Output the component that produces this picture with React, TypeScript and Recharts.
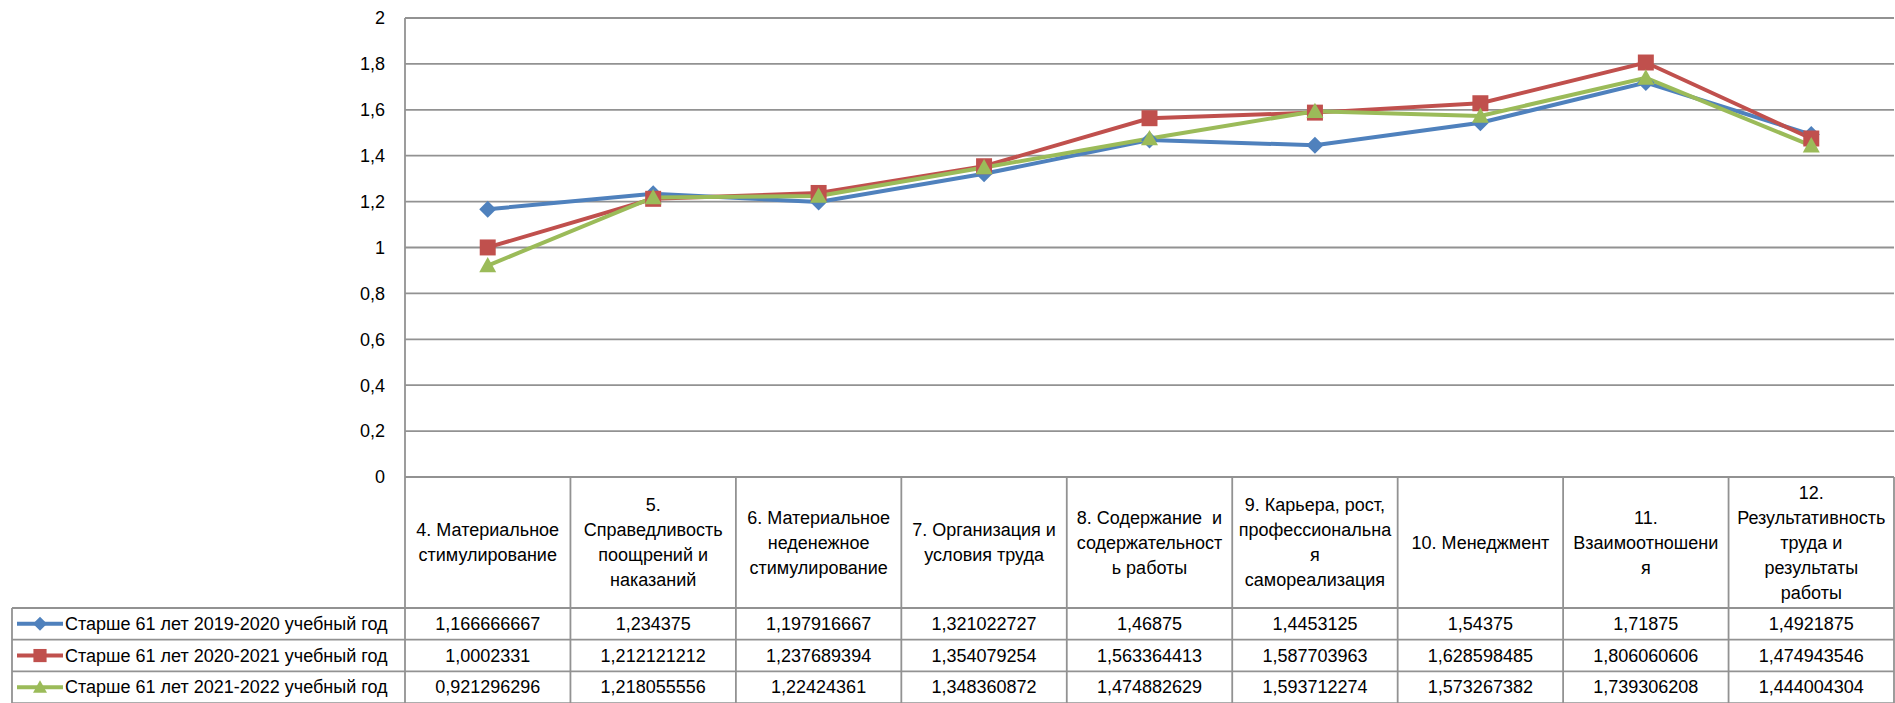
import React from 'react';
import { LineChart, Line, XAxis, YAxis, CartesianGrid } from 'recharts';

// категории (подписи столбцов таблицы данных, с переносами как в Excel)
const categories = [
  '4. Материальное стимулирование',
  '5. Справедливость поощрений и наказаний',
  '6. Материальное неденежное стимулирование',
  '7. Организация и условия труда',
  '8. Содержание  и содержательность работы',
  '9. Карьера, рост, профессиональная самореализация',
  '10. Менеджмент',
  '11. Взаимоотношения',
  '12. Результативность труда и результаты работы',
];
const categoryLines = [
  ['4. Материальное', 'стимулирование'],
  ['5.', 'Справедливость', 'поощрений и', 'наказаний'],
  ['6. Материальное', 'неденежное', 'стимулирование'],
  ['7. Организация и', 'условия труда'],
  ['8. Содержание  и', 'содержательност', 'ь работы'],
  ['9. Карьера, рост,', 'профессиональна', 'я', 'самореализация'],
  ['10. Менеджмент'],
  ['11.', 'Взаимоотношени', 'я'],
  ['12.', 'Результативность', 'труда и', 'результаты', 'работы'],
];

const series2019 = [1.166666667, 1.234375, 1.197916667, 1.321022727, 1.46875, 1.4453125, 1.54375, 1.71875, 1.4921875];
const series2020 = [1.0002331, 1.212121212, 1.237689394, 1.354079254, 1.563364413, 1.587703963, 1.628598485, 1.806060606, 1.474943546];
const series2021 = [0.921296296, 1.218055556, 1.22424361, 1.348360872, 1.474882629, 1.593712274, 1.573267382, 1.739306208, 1.444004304];

const seriesNames = [
  'Старше 61 лет 2019-2020 учебный год',
  'Старше 61 лет 2020-2021 учебный год',
  'Старше 61 лет 2021-2022 учебный год',
];
const seriesColors = ['#4F81BD', '#C0504D', '#9BBB59'];
const seriesMarkers = ['diamond', 'square', 'triangle'];
const seriesValues = [series2019, series2020, series2021];

const yTicks = [0, 0.2, 0.4, 0.6, 0.8, 1, 1.2, 1.4, 1.6, 1.8, 2];

const data = categories.map((name, i) => ({
  name,
  s1: series2019[i],
  s2: series2020[i],
  s3: series2021[i],
}));

// размеры
const W = 1895;
const H = 703;
const PLOT_LEFT = 405;
const PLOT_RIGHT = 1894;
const PLOT_TOP = 18;
const TABLE_TOP = 477;
const HEADER_BOTTOM = 608;
const ROW_H = 31.7;
const TABLE_LEFT = 12;
const COL_W = (PLOT_RIGHT - PLOT_LEFT) / categories.length;
const GRID = '#929292';
const FONT = 18;

const fmt = (v: number) => String(v).replace('.', ',');

const Marker = ({ kind, cx, cy, color, s }: { kind: string; cx: number; cy: number; color: string; s: number }) => {
  if (kind === 'diamond') {
    return <path d={`M${cx},${cy - s} L${cx + s},${cy} L${cx},${cy + s} L${cx - s},${cy} Z`} fill={color} />;
  }
  if (kind === 'square') {
    const h = s * 0.94;
    return <rect x={cx - h} y={cy - h} width={h * 2} height={h * 2} fill={color} />;
  }
  return <path d={`M${cx},${cy - s} L${cx + s},${cy + s * 0.8} L${cx - s},${cy + s * 0.8} Z`} fill={color} />;
};

const makeDot = (idx: number) => (props: any) => {
  const { cx, cy, index } = props;
  return (
    <Marker key={`d${idx}-${index}`} kind={seriesMarkers[idx]} cx={cx} cy={cy} color={seriesColors[idx]} s={8.5} />
  );
};

// ячейки таблицы данных рисуются тиками оси X
const TableTick = (props: any) => {
  const { x, payload } = props;
  const i = payload.index;
  const left = x - COL_W / 2;
  const right = x + COL_W / 2;
  const lines = categoryLines[i];
  const headerMid = (TABLE_TOP + HEADER_BOTTOM) / 2;
  const lh = 25;
  const firstY = headerMid - ((lines.length - 1) * lh) / 2;
  const rowYs = [0, 1, 2, 3].map((r) => HEADER_BOTTOM + r * ROW_H);
  return (
    <g>
      <line x1={left} y1={TABLE_TOP} x2={left} y2={H} stroke={GRID} strokeWidth={1.8} />
      {i === categories.length - 1 && (
        <line x1={right} y1={TABLE_TOP} x2={right} y2={H} stroke={GRID} strokeWidth={1.8} />
      )}
      {rowYs.map((ry, r) => (
        <line key={r} x1={left} y1={ry} x2={right} y2={ry} stroke={GRID} strokeWidth={1.8} />
      ))}
      {lines.map((t, k) => (
        <text
          key={k}
          x={x}
          y={firstY + k * lh}
          textAnchor="middle"
          dominantBaseline="central"
          fontSize={FONT}
          fill="#000"
          style={{ whiteSpace: 'pre' }}
        >
          {t}
        </text>
      ))}
      {seriesValues.map((vals, r) => (
        <text
          key={`v${r}`}
          x={x}
          y={HEADER_BOTTOM + r * ROW_H + ROW_H / 2}
          textAnchor="middle"
          dominantBaseline="central"
          fontSize={FONT}
          fill="#000"
        >
          {fmt(vals[i])}
        </text>
      ))}
      {i === 0 && (
        <g>
          <line x1={TABLE_LEFT} y1={HEADER_BOTTOM} x2={TABLE_LEFT} y2={H} stroke={GRID} strokeWidth={1.8} />
          {rowYs.map((ry, r) => (
            <line key={`l${r}`} x1={TABLE_LEFT} y1={ry} x2={left} y2={ry} stroke={GRID} strokeWidth={1.8} />
          ))}
          {seriesNames.map((nm, r) => {
            const cy = HEADER_BOTTOM + r * ROW_H + ROW_H / 2;
            return (
              <g key={`lg${r}`}>
                <line x1={17} y1={cy} x2={63} y2={cy} stroke={seriesColors[r]} strokeWidth={4} />
                <Marker kind={seriesMarkers[r]} cx={40} cy={cy} color={seriesColors[r]} s={7} />
                <text x={65} y={cy} dominantBaseline="central" fontSize={FONT} fill="#000">
                  {nm}
                </text>
              </g>
            );
          })}
        </g>
      )}
    </g>
  );
};

export default function App() {
  return (
    <div style={{ position: 'absolute', left: 0, top: 0, width: W, height: H, background: '#fff' }}>
      <LineChart
        width={W}
        height={H}
        data={data}
        margin={{ top: PLOT_TOP, right: W - PLOT_RIGHT, left: PLOT_LEFT - 100, bottom: 0 }}
        style={{ fontFamily: '"Liberation Sans", Arial, sans-serif' }}
      >
        <CartesianGrid vertical={false} stroke={GRID} strokeWidth={1.8} />
        <XAxis
          dataKey="name"
          height={H - TABLE_TOP}
          interval={0}
          padding={{ left: COL_W / 2, right: COL_W / 2 }}
          tickLine={false}
          axisLine={{ stroke: GRID, strokeWidth: 1.8 }}
          tick={<TableTick />}
        />
        <YAxis
          width={100}
          domain={[0, 2]}
          ticks={yTicks}
          interval={0}
          tickFormatter={fmt}
          tickLine={false}
          tickSize={0}
          tickMargin={20}
          axisLine={{ stroke: GRID, strokeWidth: 1.8 }}
          tick={{ fontSize: FONT, fill: '#000' }}
        />
        {['s1', 's2', 's3'].map((k, idx) => (
          <Line
            key={k}
            dataKey={k}
            name={seriesNames[idx]}
            stroke={seriesColors[idx]}
            strokeWidth={4}
            dot={makeDot(idx)}
            activeDot={false}
            isAnimationActive={false}
          />
        ))}
      </LineChart>
    </div>
  );
}
